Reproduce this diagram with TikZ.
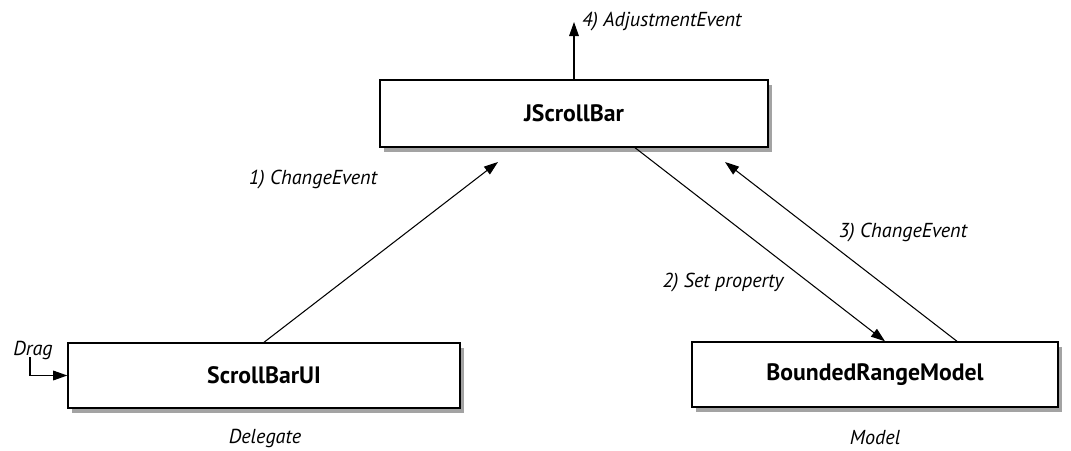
\documentclass[tikz,border=0pt]{standalone}
\usepackage{fontspec}
\setmainfont{PT Sans}
\usetikzlibrary{arrows.meta,positioning,shadows}

\begin{document}
\begin{tikzpicture}[>={Triangle[length=8pt,width=5.5pt]},
  box/.style={draw,thick,fill=white,font=\bfseries\fontsize{13.5}{15}\selectfont,
    drop shadow={shadow xshift=2.5pt,shadow yshift=-3pt,fill=black!45,opacity=0.8}},
  lbl/.style={font=\itshape\fontsize{11.5}{13}\selectfont},
  msg/.style={->,semithick}]
\useasboundingbox (0,0) rectangle (21.42,9);
\node[box,minimum width=7.76cm,minimum height=1.34cm] (jsb) at (11.48,6.73) {JScrollBar};
\node[box,minimum width=7.84cm,minimum height=1.3cm] (ui) at (5.28,1.49) {ScrollBarUI};
\node[box,minimum width=7.32cm,minimum height=1.3cm] (brm) at (17.5,1.51) {BoundedRangeModel};
\coordinate (t1) at (9.96,5.76); \coordinate (t3) at (14.5,5.76);
\coordinate (t4) at (11.48,8.56); \coordinate (drag) at (0.6,1.86);
% messages
\draw[msg] (ui.north) -- (t1);
\draw[msg] ([xshift=1.22cm]jsb.south) -- ([xshift=0.2cm]brm.north);
\draw[msg] ([xshift=1.64cm]brm.north) -- (t3);
\draw[msg] (jsb.north) -- (t4) node[lbl,right=1pt] (l4) {4) AdjustmentEvent};
\draw[msg] (drag) |- (ui.west);
\node[lbl] (l1) at (6.26,5.4) {1) ChangeEvent};
\node[lbl] (l2) at (14.46,3.34) {2) Set property};
\node[lbl] (l3) at (18.06,4.34) {3) ChangeEvent};
\node[lbl] (ld) at (0.66,2.0) {Drag};
\node[lbl] (del) at (5.3,0.24) {Delegate};
\node[lbl] (mod) at (17.5,0.24) {Model};
\end{tikzpicture}
\end{document}
